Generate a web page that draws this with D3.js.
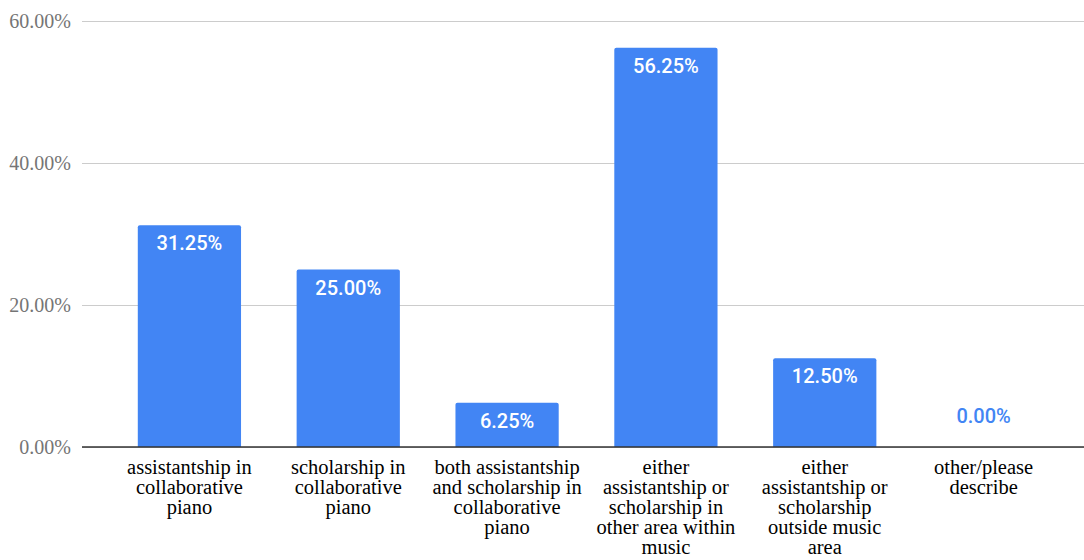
<!DOCTYPE html>
<html>
<head>
<meta charset="utf-8">
<script src="https://cdn.jsdelivr.net/npm/d3@7"></script>
<style>
  html, body { margin: 0; padding: 0; background: #fff; }
  svg { display: block; }
</style>
</head>
<body>
<svg id="chart" width="1084" height="560"></svg>
<script>
// Category names, each split into the lines shown under its bar
const categories = [
  ["assistantship in", "collaborative", "piano"],
  ["scholarship in", "collaborative", "piano"],
  ["both assistantship", "and scholarship in", "collaborative", "piano"],
  ["either", "assistantship or", "scholarship in", "other area within", "music"],
  ["either", "assistantship or", "scholarship", "outside music", "area"],
  ["other/please", "describe"]
];
// Share of respondents, in percent
const values = [31.25, 25.00, 6.25, 56.25, 12.50, 0.00];
// Value-axis ticks, in percent
const yTicks = [0, 20, 40, 60];

const svg = d3.select("#chart");
const gridLeft = 82, gridRight = 1084;
const plotTop = 21, plotBottom = 447;

const x = d3.scaleBand()
  .domain(d3.range(categories.length))
  .range([110, 1063])
  .paddingInner(0.35)
  .paddingOuter(0.175);

const y = d3.scaleLinear()
  .domain([0, 60])
  .range([plotBottom, plotTop]);

const fmt = v => v.toFixed(2) + "%";
const serif = "'Liberation Serif', 'Times New Roman', serif";

// Horizontal gridlines and tick labels
const yAxis = d3.axisLeft(y)
  .tickValues(yTicks)
  .tickFormat(fmt)
  .tickSize(-(gridRight - gridLeft))
  .tickPadding(11);

const gy = svg.append("g")
  .attr("transform", `translate(${gridLeft},0)`)
  .call(yAxis);
gy.select(".domain").remove();
gy.selectAll(".tick line").attr("stroke", "#cccccc").attr("stroke-width", 1);
gy.selectAll(".tick text")
  .attr("fill", "#757575")
  .attr("font-family", serif)
  .style("font-family", serif)
  .style("font-size", "20px");

// Bars with slightly rounded tops
const r = 2;
const barPath = (x0, y0, w, h) => {
  if (h <= 0) return "";
  const rr = Math.min(r, h);
  return `M${x0},${y0 + h}V${y0 + rr}Q${x0},${y0} ${x0 + rr},${y0}` +
         `H${x0 + w - rr}Q${x0 + w},${y0} ${x0 + w},${y0 + rr}V${y0 + h}Z`;
};

svg.append("g").selectAll("path")
  .data(values)
  .join("path")
  .attr("fill", "#4285f4")
  .attr("d", (d, i) => barPath(x(i), y(d), x.bandwidth(), y(0) - y(d)));

// Baseline
svg.append("line")
  .attr("x1", gridLeft).attr("x2", gridRight)
  .attr("y1", y(0)).attr("y2", y(0))
  .attr("stroke", "#333333")
  .attr("stroke-width", 1.5);

// Value labels: inside the bar when it is tall enough, above it otherwise
svg.append("g").selectAll("text")
  .data(values)
  .join("text")
  .attr("x", (d, i) => x(i) + x.bandwidth() / 2)
  .attr("y", d => (y(0) - y(d)) > 30 ? y(d) + 25 : y(d) - 24)
  .attr("text-anchor", "middle")
  .attr("fill", d => (y(0) - y(d)) > 30 ? "#ffffff" : "#4285f4")
  .style("font-family", "Roboto, 'Noto Sans', sans-serif")
  .style("font-weight", 500)
  .style("font-size", "20px")
  .text(fmt);

// Category labels under the baseline
const cat = svg.append("g").selectAll("text")
  .data(categories)
  .join("text")
  .attr("text-anchor", "middle")
  .attr("fill", "#000000")
  .attr("font-family", serif)
  .style("font-family", serif)
  .style("font-size", "20.5px")
  .attr("transform", (d, i) => `translate(${x(i) + x.bandwidth() / 2},${y(0) + 27})`);

cat.selectAll("tspan")
  .data(d => d)
  .join("tspan")
  .attr("x", 0)
  .attr("y", (d, j) => j * 20)
  .text(d => d);
</script>
</body>
</html>
